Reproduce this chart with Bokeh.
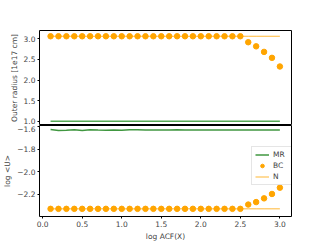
from bokeh.plotting import figure
from bokeh.layouts import column
from bokeh.models import FixedTicker, Range1d, Legend, LegendItem
from bokeh.embed import file_html
from bokeh.resources import INLINE

x = [round(0.1 * i, 1) for i in range(1, 31)]

# top panel: outer radius [1e17 cm]
r_mr = [1.0] * 30
r_bc = [3.065] * 25 + [2.92, 2.82, 2.685, 2.54, 2.33]
r_n = [3.065] * 30

# bottom panel: log <U>
u_mr = [-1.625, -1.635, -1.632, -1.627, -1.634, -1.628, -1.631, -1.633, -1.631, -1.632,
        -1.628, -1.627, -1.629, -1.630, -1.631, -1.629, -1.628, -1.630, -1.631, -1.629,
        -1.630, -1.631, -1.630, -1.631, -1.630, -1.630, -1.631, -1.630, -1.631, -1.631]
u_bc = [-2.33] * 25 + [-2.292, -2.27, -2.237, -2.198, -2.142]
u_n = [-2.33] * 30

x_ticks = [0.0, 0.5, 1.0, 1.5, 2.0, 2.5, 3.0]
top_ticks = [1.0, 1.5, 2.0, 2.5, 3.0]
bot_ticks = [-2.2, -2.0, -1.8, -1.6]

FONT = "DejaVu Sans"
GREEN = "#2b8c2b"
ORANGE = "#ffa500"


def fmt(t):
    s = f"{abs(t):.1f}"
    return ("\u2212" + s) if t < 0 else s


def style(p):
    p.outline_line_color = "black"
    p.outline_line_width = 1
    p.xgrid.visible = False
    p.ygrid.visible = False
    for ax in p.axis:
        ax.major_label_text_font = FONT
        ax.major_label_text_font_size = "7.5px"
        ax.axis_label_text_font = FONT
        ax.axis_label_text_font_size = "7.5px"
        ax.axis_label_text_font_style = "normal"
        ax.major_tick_out = 2
        ax.major_tick_in = 0
        ax.minor_tick_out = 0
        ax.minor_tick_in = 0
        ax.major_label_standoff = 2
        ax.axis_label_standoff = 2
        ax.axis_line_color = None
        ax.major_tick_line_color = "black"


xr = Range1d(-0.04, 3.147)

p1 = figure(width=307, height=125, output_backend="svg", toolbar_location=None,
            x_range=xr, y_range=Range1d(0.895, 3.205),
            min_border_left=37, min_border_right=16, min_border_top=30,
            min_border_bottom=0)
p1.line(x, r_mr, line_color="#3a9a3a", line_width=1.5, line_alpha=0.85)
p1.scatter(x, r_bc, size=5.5, fill_color=ORANGE, line_color=ORANGE)
p1.line(x, r_n, line_color=ORANGE, line_width=1, line_alpha=0.8)
p1.xaxis.visible = False
p1.yaxis.ticker = FixedTicker(ticks=top_ticks)
p1.yaxis.major_label_overrides = {t: fmt(t) for t in top_ticks}
p1.yaxis.axis_label = "Outer radius [1e17 cm]"
style(p1)

p2 = figure(width=307, height=118, output_backend="svg", toolbar_location=None,
            x_range=xr, y_range=Range1d(-2.398, -1.59),
            min_border_left=37, min_border_right=16, min_border_top=0,
            min_border_bottom=23)
l_mr = p2.line(x, u_mr, line_color=GREEN, line_width=1.5, line_alpha=0.9)
s_bc = p2.scatter(x, u_bc, size=5.5, fill_color=ORANGE, line_color=ORANGE)
l_n = p2.line(x, u_n, line_color=ORANGE, line_width=1, line_alpha=0.8)
p2.xaxis.ticker = FixedTicker(ticks=x_ticks)
p2.xaxis.major_label_overrides = {t: fmt(t) for t in x_ticks}
p2.yaxis.ticker = FixedTicker(ticks=bot_ticks)
p2.yaxis.major_label_overrides = {t: fmt(t) for t in bot_ticks}
p2.xaxis.axis_label = "log ACF(X)"
p2.yaxis.axis_label = "log <U>"
style(p2)

legend = Legend(items=[LegendItem(label="MR", renderers=[l_mr]),
                       LegendItem(label="BC", renderers=[s_bc]),
                       LegendItem(label="N", renderers=[l_n])],
                location=(212, 31))
legend.label_text_font = FONT
legend.label_text_font_size = "7.5px"
legend.label_height = 9
legend.glyph_height = 9
legend.glyph_width = 14
legend.label_standoff = 4
legend.spacing = 2
legend.padding = 3
legend.margin = 0
legend.border_line_color = "#cccccc"
legend.border_line_width = 1
legend.background_fill_alpha = 0.8
p2.add_layout(legend, "center")

layout = column(p1, p2, spacing=0)
open("out.html", "w").write(file_html(layout, INLINE))
